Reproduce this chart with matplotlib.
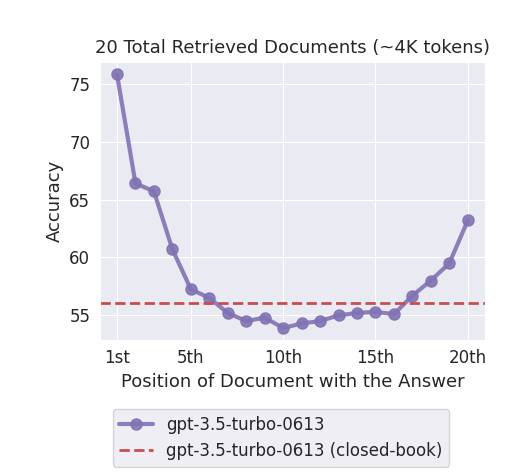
import matplotlib
matplotlib.use("Agg")
import matplotlib.pyplot as plt
import seaborn as sns

sns.set_style("darkgrid")
plt.rcParams['font.family'] = ['DejaVu Sans']

positions = list(range(1, 21))
accuracy = [75.8, 66.4, 65.7, 60.7, 57.25, 56.5, 55.2, 54.5, 54.8, 53.9,
            54.3, 54.5, 55.0, 55.2, 55.3, 55.1, 56.7, 58.0, 59.5, 63.2]
closed_book = 56.1
tick_pos = [1, 5, 10, 15, 20]
tick_labels = ["1st", "5th", "10th", "15th", "20th"]

fig = plt.figure(figsize=(5.13, 4.75), dpi=100)
ax = fig.add_axes([0.195, 0.285, 0.75, 0.585])

ax.plot(positions, accuracy, color="#8172b3", alpha=0.9, marker="o", markersize=8,
        linewidth=3, label="gpt-3.5-turbo-0613")
ax.axhline(closed_book, color="#c44e52", linestyle="--", linewidth=2,
           label="gpt-3.5-turbo-0613 (closed-book)")

ax.set_xticks(tick_pos)
ax.set_xticklabels(tick_labels)
ax.set_yticks([55, 60, 65, 70, 75])
ax.set_ylim(52.9, 76.9)
ax.set_xlim(0.08, 20.92)
ax.tick_params(labelsize=12)
ax.set_xlabel("Position of Document with the Answer", fontsize=13)
ax.set_ylabel("Accuracy", fontsize=13)
ax.set_title("20 Total Retrieved Documents (~4K tokens)", fontsize=13)

ax.legend(loc="upper center", bbox_to_anchor=(0.47, -0.22), fontsize=12)

fig.savefig("out.png", dpi=100)
